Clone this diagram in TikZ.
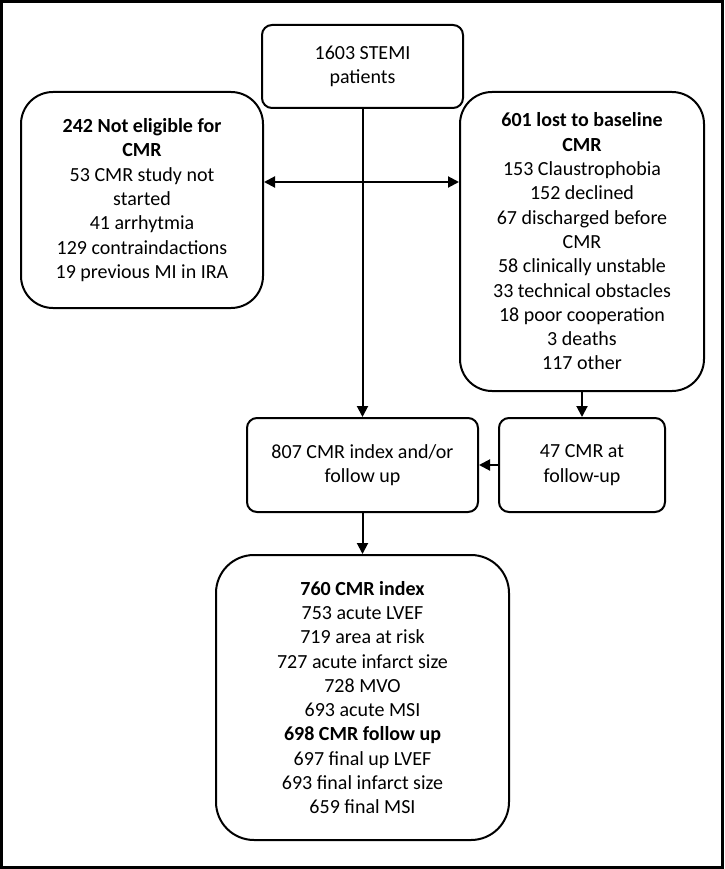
\documentclass[tikz,border=0pt]{standalone}
\usepackage{fontspec}
\setmainfont{Carlito}
\usetikzlibrary{arrows.meta}

\begin{document}
\begin{tikzpicture}[x=1pt,y=-1pt]
	\tikzstyle{every node}+=[inner sep=0pt, align=center, font={\fontsize{20}{24.3}\selectfont}]
	\tikzstyle{box}=[draw=black, line width=2pt, rounded corners=10pt]
	\tikzstyle{bigbox}=[box, rounded corners=32pt]
	\tikzstyle{arr}=[black, line width=2pt, -{Triangle[length=11pt,width=11pt]}]
	\useasboundingbox (0,0) rectangle (724,869);
	\draw [black, line width=3pt] (1.5,1.5) rectangle (722.5,867.5);
	\node [box, minimum width=201pt, minimum height=83pt] (stemi) at (362.5,66.5) {1603 STEMI\\patients};
	\node [bigbox, minimum width=242pt, minimum height=216pt] (noteligible) at (142,200)
		{\textbf{242 Not eligible for}\\\textbf{CMR}\\53 CMR study not\\started\\41 arrhytmia\\129 contraindactions\\19 previous MI in IRA};
	\node [bigbox, minimum width=244pt, minimum height=299pt] (lost) at (582,241.5)
		{\textbf{601 lost to baseline}\\\textbf{CMR}\\153 Claustrophobia\\152 declined\\67 discharged before\\CMR\\58 clinically unstable\\33 technical obstacles\\18 poor cooperation\\3 deaths\\117 other};
	\node [box, minimum width=231pt, minimum height=94pt] (cmrany) at (362.5,465) {807 CMR index and/or\\follow up};
	\node [box, minimum width=166pt, minimum height=94pt] (cmrfu) at (582,465) {47 CMR at\\follow-up};
	\node [bigbox, rounded corners=38pt, minimum width=293pt, minimum height=285pt] (final) at (362.5,697.5)
		{\textbf{760 CMR index}\\753 acute LVEF\\719 area at risk\\727 acute infarct size\\728 MVO\\693 acute MSI\\\textbf{698 CMR follow up}\\697 final up LVEF\\693 final infarct size\\659 final MSI};
	\coordinate (split) at (362.5,182);
	\draw [arr] (stemi) -- (cmrany);
	\draw [arr] (split) -- (split -| noteligible.east);
	\draw [arr] (split) -- (split -| lost.west);
	\draw [arr] (lost) -- (cmrfu);
	\draw [arr] (cmrfu) -- (cmrany);
	\draw [arr] (cmrany) -- (final);
\end{tikzpicture}
\end{document}
